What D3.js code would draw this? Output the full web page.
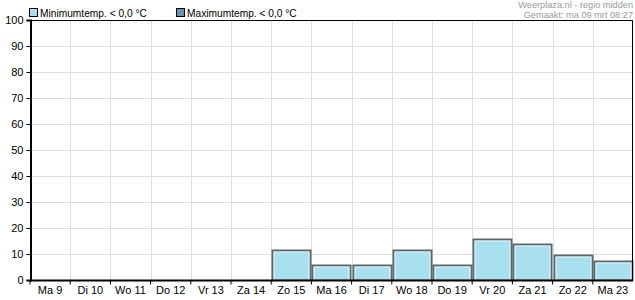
<!DOCTYPE html>
<html>
<head>
<meta charset="utf-8">
<script src="https://cdn.jsdelivr.net/npm/d3@7"></script>
<style>
  body { margin: 0; background: #fff; }
  text { font-family: "Liberation Sans", Arial, sans-serif; }
</style>
</head>
<body>
<script>
// days and values (percent chance)
var days = ["Ma 9", "Di 10", "Wo 11", "Do 12", "Vr 13", "Za 14", "Zo 15", "Ma 16", "Di 17", "Wo 18", "Do 19", "Vr 20", "Za 21", "Zo 22", "Ma 23"];
var minTemp = [0, 0, 0, 0, 0, 0, 11.5, 5.8, 5.8, 11.5, 5.8, 15.6, 13.7, 9.6, 7.4];
var maxTemp = [0, 0, 0, 0, 0, 0, 0, 0, 0, 0, 0, 0, 0, 0, 0];
var yTicks = [0, 10, 20, 30, 40, 50, 60, 70, 80, 90, 100];
var legendLabels = ["Minimumtemp. < 0,0 °C", "Maximumtemp. < 0,0 °C"];
var legendColors = ["#a8e0f0", "#6a93b0"];

var width = 635, height = 300;
var margin = {top: 20, right: 2, bottom: 20, left: 30};

var svg = d3.select("body").append("svg")
    .attr("width", width)
    .attr("height", height);

var x = d3.scaleBand()
    .domain(days)
    .range([margin.left, width - margin.right]);

var y = d3.scaleLinear()
    .domain([0, 100])
    .range([height - margin.bottom, margin.top]);

// grid
svg.append("g").selectAll("line.h")
    .data(yTicks.slice(1))
    .enter().append("line")
    .attr("x1", margin.left).attr("x2", width - margin.right)
    .attr("y1", function(d) { return Math.round(y(d)) + 0.5; })
    .attr("y2", function(d) { return Math.round(y(d)) + 0.5; })
    .attr("stroke", "#dedede");

svg.append("g").selectAll("line.v")
    .data(days.slice(1))
    .enter().append("line")
    .attr("x1", function(d) { return Math.round(x(d)) + 0.5; })
    .attr("x2", function(d) { return Math.round(x(d)) + 0.5; })
    .attr("y1", margin.top).attr("y2", height - margin.bottom)
    .attr("stroke", "#dedede");

// bars (min temp series; max temp series is all zero)
var bars = svg.append("g").selectAll("g")
    .data(days.map(function(d, i) { return {day: d, v: minTemp[i]}; }).filter(function(d) { return d.v > 0; }))
    .enter().append("g");

bars.append("rect")
    .attr("x", function(d) { return Math.round(x(d.day)) + 1.5; })
    .attr("y", function(d) { return Math.round(y(d.v)) + 0.5; })
    .attr("width", function(d) { return Math.round(x.bandwidth()) - 2; })
    .attr("height", function(d) { return y(0) - Math.round(y(d.v)) - 0.5; })
    .attr("fill", legendColors[0])
    .attr("stroke", "#5f6668")
    .attr("stroke-width", 2);

bars.append("rect")
    .attr("x", function(d) { return Math.round(x(d.day)) + 3; })
    .attr("y", function(d) { return Math.round(y(d.v)) + 2; })
    .attr("width", function(d) { return Math.round(x.bandwidth()) - 5; })
    .attr("height", function(d) { return y(0) - Math.round(y(d.v)) - 2; })
    .attr("fill", "none")
    .attr("stroke", "#e4f6fb")
    .attr("stroke-width", 1);

// frame top/right
svg.append("path")
    .attr("d", "M" + margin.left + "," + (margin.top + 0.5) + "H" + (width - margin.right - 0.5) + "V" + (height - margin.bottom))
    .attr("fill", "none")
    .attr("stroke", "#000");

// axes
var yAxis = svg.append("g")
    .attr("transform", "translate(" + (margin.left + 0.5) + ",0)")
    .call(d3.axisLeft(y).tickValues(yTicks).tickSize(4).tickPadding(3));

var xAxis = svg.append("g")
    .attr("transform", "translate(0," + (height - margin.bottom + 0.5) + ")")
    .call(d3.axisBottom(x).tickSize(0).tickPadding(6));

xAxis.selectAll(".tick").append("line")
    .attr("x1", -x.bandwidth() / 2).attr("x2", -x.bandwidth() / 2)
    .attr("y2", 4).attr("stroke", "#000");

[yAxis, xAxis].forEach(function(a) {
    a.select(".domain").attr("stroke", "#000").attr("stroke-width", 2);
    a.selectAll("text").attr("font-size", 11).attr("fill", "#000")
        .attr("font-family", "Liberation Sans, Arial, sans-serif");
});
xAxis.select(".domain").attr("d", "M" + margin.left + ",0H" + (width - margin.right));

// legend
var legend = svg.append("g").selectAll("g")
    .data(legendLabels)
    .enter().append("g")
    .attr("transform", function(d, i) { return "translate(" + (29 + i * 147) + ",0)"; });

legend.append("rect")
    .attr("x", 0.5).attr("y", 8.5)
    .attr("width", 8).attr("height", 8)
    .attr("fill", function(d, i) { return legendColors[i]; })
    .attr("stroke", "#000");

legend.append("text")
    .attr("x", 11).attr("y", 16.5)
    .attr("font-size", 10.2)
    .text(function(d) { return d; });

// source note
svg.append("g").selectAll("text")
    .data(["Weerplaza.nl - regio midden", "Gemaakt: ma 09 mrt 08:27"])
    .enter().append("text")
    .attr("x", 633).attr("y", function(d, i) { return 8 + i * 10; })
    .attr("text-anchor", "end")
    .attr("font-size", 9.2)
    .attr("fill", "#9a9a9a")
    .text(function(d) { return d; });
</script>
</body>
</html>
